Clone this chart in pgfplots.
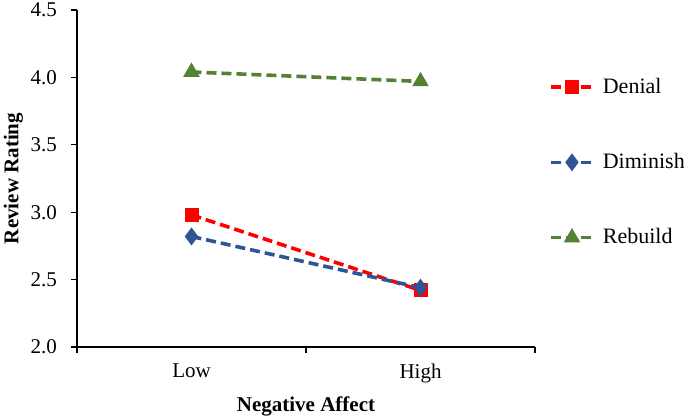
\documentclass[border=0pt]{standalone}
\usepackage{pgfplots}
\pgfplotsset{compat=1.18}
\usepackage{fontspec}
\setmainfont{Liberation Serif}
\definecolor{cRed}{HTML}{FF0000}
\definecolor{cBlue}{HTML}{2F5597}
\definecolor{cGreen}{HTML}{548235}
\begin{document}
\begin{tikzpicture}
\begin{axis}[
  scale only axis,
  width=229pt, height=168.5pt,
  xmin=-0.5, xmax=1.5,
  ymin=2.0, ymax=4.5,
  ytick={2.0,2.5,3.0,3.5,4.0,4.5},
  yticklabel={\pgfmathprintnumber[fixed,fixed zerofill,precision=1,assume math mode=true]{\tick}},
  xtick={-0.5,0.5,1.5},
  xticklabels={},
  extra x ticks={0,1},
  extra x tick labels={Low,High},
  extra x tick style={major tick length=0pt},
  axis x line*=bottom,
  axis y line*=left,
  axis line style={line width=0.6pt},
  tick style={line width=0.6pt, black},
  tick align=outside,
  major tick length=3pt,
  tick label style={font=\fontsize{10.5}{12}\selectfont},
  yticklabel style={xshift=-3.5pt},
  xticklabel style={yshift=-5pt},
  xlabel={\textbf{Negative Affect}},
  ylabel={\textbf{Review Rating}},
  label style={font=\fontsize{10.5}{12}\selectfont},
  xlabel style={yshift=3pt},
  ylabel style={yshift=-3pt},
  legend style={draw=none, fill=none, at={(axis description cs:1.03,0.548)}, anchor=west,
    font=\fontsize{11}{13}\selectfont, row sep=24.5pt, inner sep=0pt,
    nodes={inner xsep=4pt}},
  legend cell align=left,
  legend image code/.code={
    \draw[mark repeat=2,mark phase=2,#1] plot coordinates {(0cm,0cm) (0.37cm,0cm) (0.74cm,0cm)};
  },
  clip=false,
]
\addplot[cRed, line width=1.8pt, dash pattern=on 5pt off 2.5pt, mark=square*, mark size=2.6pt, mark options={solid}]
  coordinates {(0,2.98) (1,2.42)};
\addlegendentry{Denial}
\addplot[cBlue, line width=1.8pt, dash pattern=on 5pt off 2.5pt, mark=diamond*, mark size=3pt, mark options={solid}]
  coordinates {(0,2.82) (1,2.44)};
\addlegendentry{Diminish}
\addplot[cGreen, line width=1.8pt, dash pattern=on 5pt off 2.5pt, mark=triangle*, mark size=3pt, mark options={solid}]
  coordinates {(0,4.04) (1,3.97)};
\addlegendentry{Rebuild}
\end{axis}
\pgfresetboundingbox
\path (current axis.south west) ++(-38.5pt,-34.5pt) coordinate (bbA);
\path (current axis.north east) ++(74.5pt,5pt) coordinate (bbB);
\useasboundingbox (bbA) rectangle (bbB);
\end{tikzpicture}
\end{document}
